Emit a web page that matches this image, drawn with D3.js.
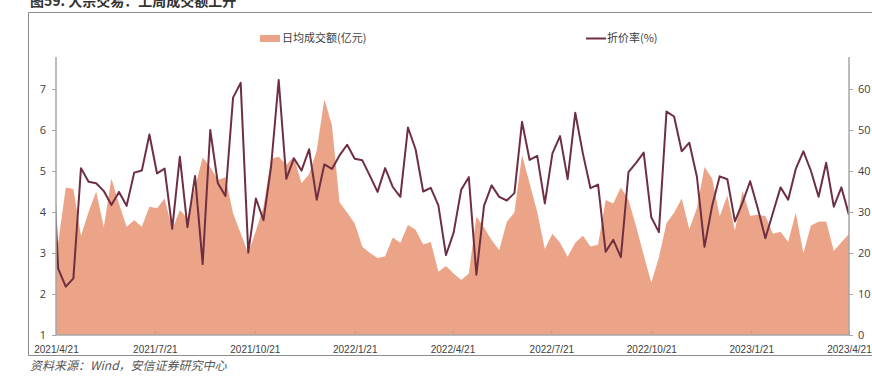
<!DOCTYPE html>
<html lang="zh">
  <head>
    <meta charset="UTF-8" />
    <title>大宗交易：上周成交额上升</title>
    <style>
      body {
        margin: 0;
        background: #ffffff;
      }
      svg {
        display: block;
        font-family: "Noto Sans CJK SC", "Noto Sans", sans-serif;
      }
    </style>
    <script src="https://d3js.org/d3.v7.min.js"></script>
  </head>
  <body>
    <svg id="chart"></svg>
    <script>
      // weekly data, Fridays from 2021/4/16 to 2023/4/21 (first point falls left of the axis)
      const amount = [
        3.3, 3.25, 4.6, 4.56, 3.42, 4.0, 4.5, 3.63, 4.82, 4.2, 3.64, 3.8, 3.64,
        4.13, 4.09, 4.33, 3.58, 4.05, 3.85, 4.6, 5.33, 5.1, 4.78, 4.85, 3.97,
        3.48, 3.0, 3.54, 4.12, 5.3, 5.35, 5.15, 5.35, 4.7, 4.92, 5.5, 6.75,
        6.12, 4.24, 3.99, 3.72, 3.15, 3.0, 2.88, 2.92, 3.38, 3.25, 3.68, 3.57,
        3.21, 3.27, 2.54, 2.68, 2.5, 2.34, 2.5, 3.89, 3.62, 3.32, 3.07, 3.76,
        3.99, 5.39, 4.7, 4.0, 3.1, 3.47, 3.25, 2.91, 3.25, 3.42, 3.16, 3.2,
        4.29, 4.21, 4.6, 4.3, 3.65, 2.95, 2.28, 2.89, 3.73, 3.98, 4.33, 3.58,
        4.1, 5.1, 4.82, 3.89, 4.4, 3.55, 4.52, 3.91, 3.93, 3.9, 3.47, 3.52,
        3.27, 3.98, 3.0, 3.67, 3.76, 3.77, 3.05, 3.26, 3.47,
      ];
      const discount = [
        55, 16.2, 11.8, 13.8, 40.7, 37.4, 37.0, 35.1, 31.7, 34.9, 31.5, 39.6,
        40.1, 48.9, 39.4, 40.6, 25.9, 43.5, 26.3, 38.8, 17.3, 50.0, 37.0, 33.9,
        57.9, 61.5, 20.1, 33.3, 28.0, 41.1, 62.2, 38.1, 43.1, 40.1, 45.3, 33.0,
        41.6, 40.5, 43.8, 46.4, 43.0, 42.6, 38.8, 34.9, 40.7, 36.1, 33.7, 50.6,
        45.3, 35.0, 35.9, 31.6, 19.5, 24.9, 35.4, 38.5, 14.7, 31.5, 36.5, 33.7,
        32.8, 34.6, 52.0, 42.7, 43.7, 32.1, 44.3, 48.5, 38.0, 54.2, 44.3, 35.8,
        36.7, 20.3, 23.2, 19.0, 39.7, 42.0, 44.5, 28.7, 25.1, 54.5, 53.3, 44.8,
        46.9, 38.6, 21.5, 31.5, 38.7, 38.0, 27.7, 32.3, 37.5, 30.9, 23.6, 29.8,
        36.0, 33.0, 40.5, 44.8, 40.0, 33.7, 42.0, 31.3, 36.0, 29.3,
      ];
      const xTickLabels = [
        "2021/4/21", "2021/7/21", "2021/10/21", "2022/1/21", "2022/4/21",
        "2022/7/21", "2022/10/21", "2023/1/21", "2023/4/21",
      ];
      const leftTicks = [1, 2, 3, 4, 5, 6, 7];
      const rightTicks = [0, 10, 20, 30, 40, 50, 60];
      const seriesNames = ["日均成交额(亿元)", "折价率(%)"];

      const width = 872;
      const height = 384;
      const areaColor = "#eba487";
      const lineColor = "#6e2f42";
      const axisColor = "#a6a6a6";
      const textColor = "#404040";

      const parseDate = d3.timeParse("%Y/%m/%d");
      const tickDates = xTickLabels.map(parseDate);
      const dates = d3.timeFriday.range(
        new Date(2021, 3, 16),
        new Date(2023, 3, 22)
      );
      const data = dates.map((d, i) => ({
        date: d,
        amount: amount[i],
        discount: discount[i],
      }));

      const plot = { left: 56, right: 849, top: 57, bottom: 335 };

      const x = d3
        .scaleTime()
        .domain([tickDates[0], tickDates[tickDates.length - 1]])
        .range([plot.left, plot.right]);
      const yL = d3.scaleLinear().domain([1, 7]).range([plot.bottom, 89]);
      const yR = d3.scaleLinear().domain([0, 60]).range([plot.bottom, 89]);

      const svg = d3
        .select("#chart")
        .attr("width", width)
        .attr("height", height);

      // title (cut off by the top edge in the original)
      svg
        .append("text")
        .attr("x", 30)
        .attr("y", 6)
        .attr("font-size", 14)
        .attr("font-weight", "bold")
        .attr("fill", "#333")
        .text("图59. 大宗交易：上周成交额上升");

      // frame
      svg
        .append("path")
        .attr("d", `M876,12.5H28.5V355.5H876`)
        .attr("fill", "none")
        .attr("stroke", "#8c8c8c")
        .attr("stroke-width", 1);

      svg
        .append("defs")
        .append("clipPath")
        .attr("id", "clip")
        .append("rect")
        .attr("x", plot.left)
        .attr("y", 0)
        .attr("width", plot.right - plot.left)
        .attr("height", plot.bottom);

      const g = svg.append("g").attr("clip-path", "url(#clip)");

      const area = d3
        .area()
        .x((d) => x(d.date))
        .y0(yL(1))
        .y1((d) => yL(d.amount));

      g.append("path")
        .datum(data)
        .attr("d", area)
        .attr("fill", areaColor);

      const line = d3
        .line()
        .x((d) => x(d.date))
        .y((d) => yR(d.discount));

      g.append("path")
        .datum(data)
        .attr("d", line)
        .attr("fill", "none")
        .attr("stroke", lineColor)
        .attr("stroke-width", 2)
        .attr("stroke-linejoin", "round");

      // axes
      const styleAxis = (sel) => {
        sel.select(".domain").remove();
        sel.selectAll(".tick line").attr("stroke", axisColor);
        sel
          .selectAll(".tick text")
          .attr("fill", textColor)
          .attr("font-size", 11)
          .attr("font-family", "'Open Sans', 'Noto Sans', sans-serif");
      };

      svg
        .append("g")
        .attr("transform", `translate(${plot.left},0)`)
        .call(
          d3
            .axisLeft(yL)
            .tickValues(leftTicks)
            .tickFormat(d3.format("d"))
            .tickSize(4)
            .tickPadding(6)
        )
        .call(styleAxis);

      svg
        .append("g")
        .attr("transform", `translate(${plot.right},0)`)
        .call(
          d3
            .axisRight(yR)
            .tickValues(rightTicks)
            .tickFormat(d3.format("d"))
            .tickSize(4)
            .tickPadding(5)
        )
        .call(styleAxis);

      const xAxis = svg
        .append("g")
        .attr("transform", `translate(0,${plot.bottom})`)
        .call(
          d3
            .axisBottom(x)
            .tickValues(tickDates)
            .tickFormat((d, i) => xTickLabels[i])
            .tickSize(4)
            .tickPadding(7)
        )
        .call(styleAxis);
      xAxis.selectAll(".tick line").attr("y1", -4).attr("y2", 0);
      xAxis
        .selectAll(".tick text")
        .attr("font-family", "'Liberation Sans', Arial, sans-serif")
        .attr("font-size", 10);

      svg
        .append("g")
        .attr("stroke", axisColor)
        .attr("stroke-width", 1.5)
        .selectAll("line")
        .data([
          [plot.left, plot.top, plot.left, plot.bottom],
          [plot.right, plot.top, plot.right, plot.bottom],
          [plot.left, plot.bottom, plot.right, plot.bottom],
        ])
        .join("line")
        .attr("x1", (d) => d[0])
        .attr("y1", (d) => d[1])
        .attr("x2", (d) => d[2])
        .attr("y2", (d) => d[3]);

      // legend
      const legend = svg.append("g").attr("font-size", 11).attr("fill", textColor);
      legend
        .append("rect")
        .attr("x", 260)
        .attr("y", 35)
        .attr("width", 20)
        .attr("height", 7)
        .attr("fill", areaColor);
      legend
        .append("text")
        .attr("x", 282)
        .attr("y", 42)
        .text(seriesNames[0]);
      legend
        .append("line")
        .attr("x1", 586)
        .attr("x2", 606)
        .attr("y1", 38.5)
        .attr("y2", 38.5)
        .attr("stroke", lineColor)
        .attr("stroke-width", 2);
      legend
        .append("text")
        .attr("x", 607)
        .attr("y", 42)
        .text(seriesNames[1]);

      // source
      svg
        .append("text")
        .attr("x", 30)
        .attr("y", 370)
        .attr("font-size", 12)
        .attr("font-style", "italic")
        .attr("fill", "#555")
        .text("资料来源：Wind，安信证券研究中心");
    </script>
  </body>
</html>
